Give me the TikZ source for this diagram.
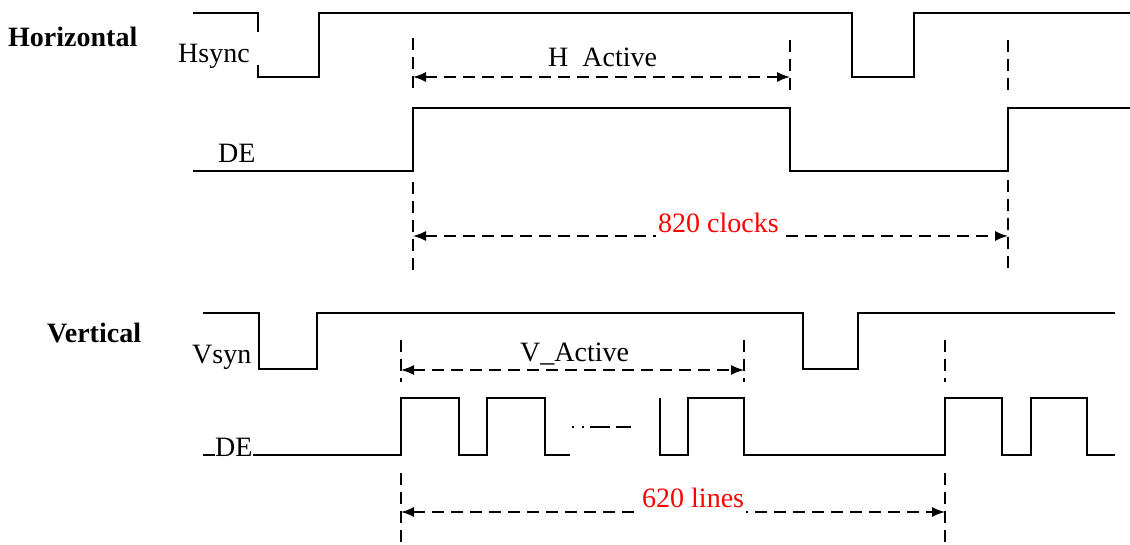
\documentclass[tikz,border=0pt]{standalone}
\usepackage{fontspec}
\setmainfont{Liberation Serif}
\usetikzlibrary{arrows.meta}

\begin{document}
\begin{tikzpicture}[
  x=1pt, y=-1pt,
  every node/.style={font=\fontsize{28}{32}\selectfont, inner sep=0pt, anchor=base west},
  sigline/.style={line width=1.7pt, line join=miter},
  guideline/.style={line width=1.5pt, dash pattern=on 12pt off 7pt},
  dimline/.style={guideline, {Latex[length=13pt,width=10pt]}-{Latex[length=13pt,width=10pt]}},
  headtxt/.style={font=\fontsize{28}{32}\selectfont\bfseries},
  valtxt/.style={text=red, fill=white, inner xsep=2pt, inner ysep=6pt},
]
  \useasboundingbox (0,0) rectangle (1130,545);

  % horizontal timing
  \node[headtxt] (horiz) at (8,47) {Horizontal};
  \draw[sigline] (193,13) -- (258,13) -- (258,77) -- (319,77) -- (319,13) -- (852,13)
    -- (852,77) -- (914,77) -- (914,13) -- (1130,13);
  \draw[sigline] (193,171) -- (413,171) -- (413,108) -- (790,108) -- (790,171)
    -- (1008,171) -- (1008,108) -- (1130,108);
  \node[fill=white, inner ysep=2pt, text height=29pt, text depth=0pt, text width=81pt, align=left]
    (hsync) at (178,63) {Hsync};
  \node (hde) at (218,163) {DE};

  \draw[guideline] (413,38) -- (413,92);
  \draw[guideline] (413,182) -- (413,270);
  \draw[guideline] (790,40) -- (790,92);
  \draw[guideline] (1008,40) -- (1008,92);
  \draw[guideline] (1008,180) -- (1008,270);

  \coordinate (ha0) at (413,77);
  \coordinate (ha1) at (790,77);
  \coordinate (hc0) at (413,236);
  \coordinate (hc1) at (1008,236);
  \draw[dimline] (ha0) -- (ha1);
  \draw[dimline] (hc0) -- (hc1);
  \node (hact) at (548,67) {H~~Active};
  \node[valtxt] (hclk) at (656,233) {820 clocks};

  % vertical timing
  \node[headtxt] (vert) at (47,342) {Vertical};
  \draw[sigline] (203,313) -- (259,313) -- (259,369) -- (317,369) -- (317,313) -- (803,313)
    -- (803,369) -- (858,369) -- (858,313) -- (1115,313);
  \draw[sigline] (203,455) -- (401,455) -- (401,398) -- (459,398) -- (459,455) -- (487,455)
    -- (487,398) -- (545,398) -- (545,455) -- (570,455);
  \draw[sigline] (660,398) -- (660,455) -- (688,455) -- (688,398) -- (744,398) -- (744,455)
    -- (945,455) -- (945,398) -- (1002,398) -- (1002,455) -- (1031,455) -- (1031,398)
    -- (1087,398) -- (1087,455) -- (1115,455);
  \draw[line width=1.4pt, dash pattern=on 2pt off 8pt on 2pt off 6pt on 20pt off 6pt on 19pt]
    (572,427) -- (631,427);
  \node (vsyn) at (192,363) {Vsyn};
  \node[fill=white, inner ysep=2pt] (vde) at (215,456) {DE};

  \draw[guideline] (401,340) -- (401,382);
  \draw[guideline] (401,473) -- (401,545);
  \draw[guideline] (744,340) -- (744,382);
  \draw[guideline] (945,340) -- (945,382);
  \draw[guideline] (945,473) -- (945,545);

  \coordinate (va0) at (401,370);
  \coordinate (va1) at (744,370);
  \coordinate (vl0) at (401,512);
  \coordinate (vl1) at (945,512);
  \draw[dimline] (va0) -- (va1);
  \draw[dimline] (vl0) -- (vl1);
  \node (vact) at (520,362) {V\_Active};
  \node[valtxt] (vlns) at (640,507) {620 lines};
\end{tikzpicture}
\end{document}
